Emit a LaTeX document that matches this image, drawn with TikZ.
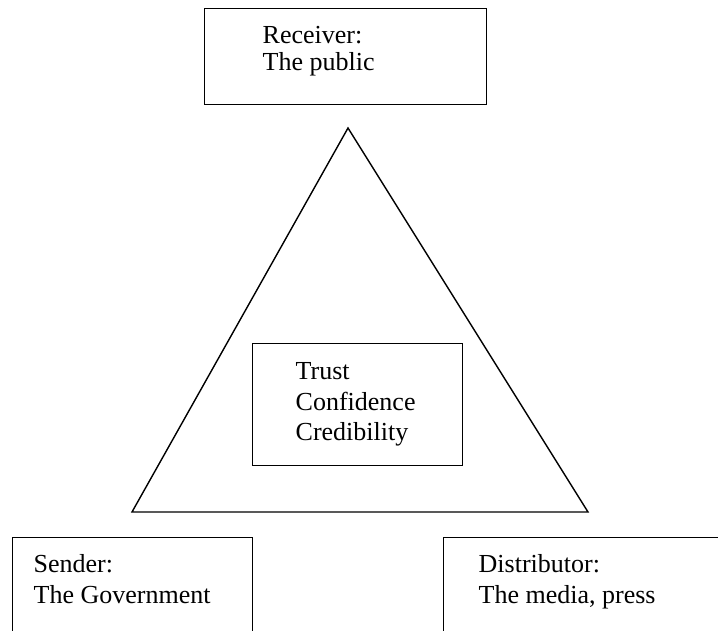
\documentclass[tikz,border=0pt]{standalone}
\usepackage{fontspec}
\setmainfont{Liberation Serif}
\begin{document}
\begin{tikzpicture}[x=1pt,y=-1pt,line width=1.4pt,
  boxshape/.style={draw,rectangle,inner sep=0pt,anchor=north west},
  txt/.style={anchor=base west,inner sep=0pt,font=\fontsize{26}{30}\selectfont}]
\useasboundingbox (0,0) rectangle (718,630);
\clip (0,0) rectangle (718,630);
% boxes
\node[boxshape,minimum width=282pt,minimum height=96pt] (recv) at (204,8) {};
\node[boxshape,minimum width=210pt,minimum height=122pt] (core) at (252,343) {};
\node[boxshape,minimum width=240pt,minimum height=110pt] (send) at (12,537) {};
\node[boxshape,minimum width=290pt,minimum height=110pt] (dist) at (443,537) {};
% triangle
\coordinate (apex) at (348,128);
\coordinate (bl) at (132,512);
\coordinate (br) at (588,512);
\draw[line join=miter] (apex) -- (br) -- (bl) -- cycle;
% texts
\node[txt] (recvA) at (262,43) {Receiver:};
\node[txt] (recvB) at (262,70) {The public};
\node[txt] (coreA) at (295,379) {Trust};
\node[txt] (coreB) at (295,410) {Confidence};
\node[txt] (coreC) at (295,440) {Credibility};
\node[txt] (sendA) at (33,572) {Sender:};
\node[txt] (sendB) at (33,603) {The Government};
\node[txt] (distA) at (478,572) {Distributor:};
\node[txt] (distB) at (478,603) {The media, press};
\end{tikzpicture}
\end{document}
